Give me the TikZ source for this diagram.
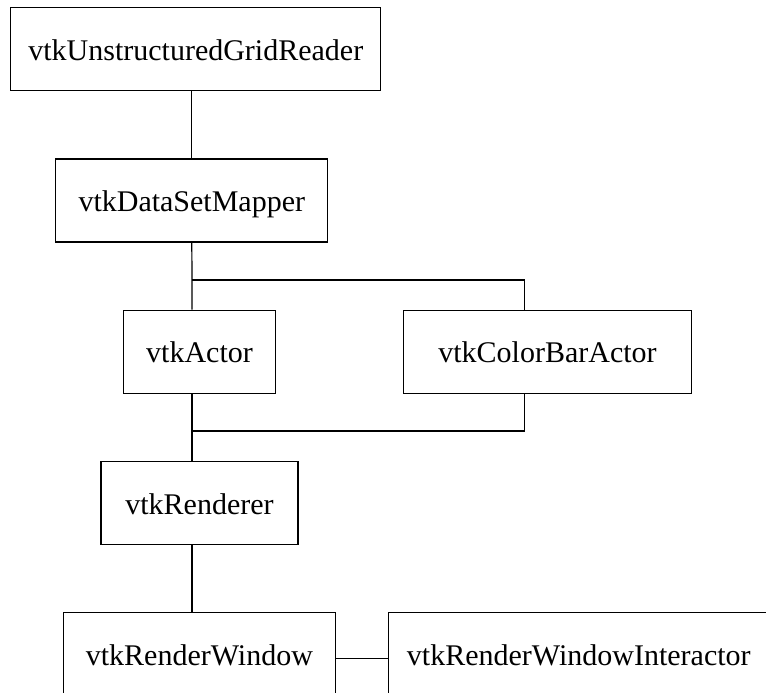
\documentclass[tikz,border=0pt]{standalone}
\usepackage{fontspec}
\setmainfont{Liberation Serif}
\usetikzlibrary{positioning}

\begin{document}
\begin{tikzpicture}[
    x=1pt, y=-1pt,
    box/.style={rectangle, draw, line width=1.2pt, minimum height=83pt, inner sep=0pt, text height=22pt, text depth=0pt, align=center, font=\fontsize{30}{36}\selectfont},
    link/.style={line width=1.2pt}
]
\useasboundingbox (0,0) rectangle (766,693);
\clip (0,0) rectangle (766,693);

% ------------------ Pipeline ------------------
\node[box, minimum width=370pt] (reader) at (195.8,49.2) {vtkUnstructuredGridReader};
\node[box, minimum width=272pt] (mapper) at (191.8,200.5) {vtkDataSetMapper};

% ------------------ Actors ------------------
\node[box, minimum width=152pt] (actor) at (199.5,351.8) {vtkActor};
\node[box, minimum width=288pt] (colorbar) at (547.5,351.8) {vtkColorBarActor};

% ------------------ Rendering ------------------
\node[box, minimum width=197pt] (renderer) at (199.5,503.2) {vtkRenderer};
\node[box, minimum width=272pt] (window) at (199.4,654.2) {vtkRenderWindow};
\node[box, minimum width=381pt] (interactor) at (578.8,654.2) {vtkRenderWindowInteractor};

% ------------------ Connections ------------------
\coordinate (split) at (192,280);
\coordinate (splitR) at (524.7,280);
\coordinate (merge) at (192,431);
\coordinate (mergeR) at (524.7,431);

\draw[link] (reader.south -| mapper.north) -- (mapper.north);
\draw[link] (mapper.south) -- (split) -- (split |- actor.north);
\draw[link] (split) -- (splitR) -- (splitR |- colorbar.north);
\draw[link] (merge |- actor.south) -- (merge) -- (merge |- renderer.north);
\draw[link] (mergeR |- colorbar.south) -- (mergeR) -- (merge);
\draw[link] (merge |- renderer.south) -- (merge |- window.north);
\draw[link] ([yshift=-4pt]window.east) -- ([yshift=-4pt]interactor.west);

\end{tikzpicture}
\end{document}
